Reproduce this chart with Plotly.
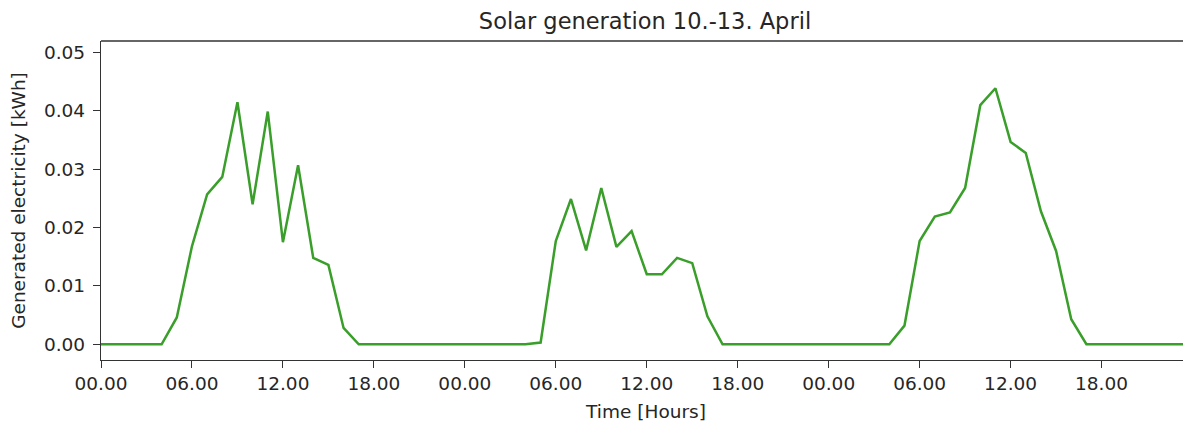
import plotly.graph_objects as go

hours = list(range(0, 73))
generation = [
    # day 1 (10. April) 00-23
    0, 0, 0, 0, 0, 0.0046, 0.0168, 0.0257, 0.0287, 0.0415, 0.0240, 0.0399,
    0.0175, 0.0307, 0.0148, 0.0136, 0.0028, 0, 0, 0, 0, 0, 0, 0,
    # day 2 00-23
    0, 0, 0, 0, 0, 0.0003, 0.0177, 0.0249, 0.0161, 0.0268, 0.0167, 0.0194,
    0.0120, 0.0120, 0.0148, 0.0139, 0.0048, 0, 0, 0, 0, 0, 0, 0,
    # day 3 00-23
    0, 0, 0, 0, 0, 0.0032, 0.0177, 0.0219, 0.0226, 0.0268, 0.0410, 0.0439,
    0.0347, 0.0328, 0.0228, 0.0160, 0.0043, 0, 0, 0, 0, 0, 0, 0,
    0,
]
x_tick_vals = list(range(0, 72, 6))
x_tick_text = ["00.00", "06.00", "12.00", "18.00"] * 3
y_tick_vals = [0.0, 0.01, 0.02, 0.03, 0.04, 0.05]
y_tick_text = ["0.00", "0.01", "0.02", "0.03", "0.04", "0.05"]

font = dict(family="DejaVu Sans", size=18.5, color="#262626")

fig = go.Figure()
fig.add_trace(go.Scatter(
    x=hours, y=generation, mode="lines",
    line=dict(color="#3a9e2a", width=2.5),
    showlegend=False, hoverinfo="skip",
))

# the page body has an 8px margin, so the figure is offset by 8px
W, H = 1183, 417
fig.update_layout(
    width=W, height=H,
    margin=dict(l=93, r=0, t=33, b=65),
    paper_bgcolor="white", plot_bgcolor="white",
    font=font,
    title=dict(text="Solar generation 10.-13. April", x=637 / W, xanchor="center",
               y=1 - 13 / H, yanchor="middle",
               font=dict(size=22.5, family="DejaVu Sans", color="#262626")),
    xaxis=dict(
        range=[0, 71.9], tickvals=x_tick_vals, ticktext=x_tick_text,
        showgrid=False, zeroline=False, showline=True, linecolor="#333333", linewidth=1.3,
        ticks="outside", ticklen=7, tickcolor="#333333", tickwidth=1.2,
        title=dict(text="Time [Hours]", standoff=11, font=font),
        tickfont=font, automargin=False,
    ),
    yaxis=dict(
        range=[-0.0027, 0.052], tickvals=y_tick_vals, ticktext=y_tick_text,
        showgrid=False, zeroline=False, showline=True, linecolor="#333333", linewidth=1.3,
        ticks="outside", ticklen=7, tickcolor="#333333", tickwidth=1.2,
        ticklabelstandoff=4,
        title=dict(text="Generated electricity [kWh]", standoff=16, font=font),
        tickfont=font, automargin=False,
    ),
    shapes=[dict(type="line", xref="paper", yref="paper", x0=0, x1=1, y0=1, y1=1,
                 line=dict(color="#333333", width=1.3))],
)

fig.write_html("out.html")
